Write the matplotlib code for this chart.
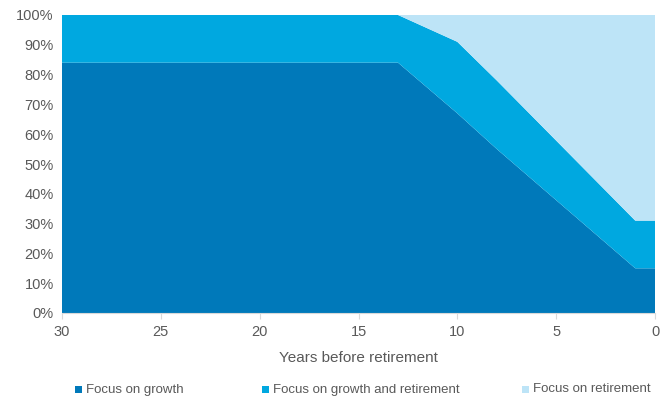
import matplotlib
matplotlib.use("Agg")
import matplotlib.pyplot as plt
from matplotlib.patches import Rectangle

years = [30, 13, 10, 8, 1, 0]
growth = [84, 84, 67, 55, 15, 15]
growth_and_retirement = [16, 16, 24, 23, 16, 16]
retirement = [0, 0, 9, 22, 69, 69]
labels = ["Focus on growth", "Focus on growth and retirement", "Focus on retirement"]
colors = ["#0079BA", "#00A8E0", "#BDE4F7"]
xticks = [30, 25, 20, 15, 10, 5, 0]
yticks = list(range(0, 101, 10))

plt.rcParams["font.family"] = ["Liberation Sans", "DejaVu Sans"]

W, H = 668, 399
fig = plt.figure(figsize=(W/100, H/100), dpi=100)
ax = fig.add_axes([62/W, 1-313/H, (655-62)/W, (313-15)/H])
ax.stackplot(years, growth, growth_and_retirement, retirement, colors=colors, linewidth=0)
ax.set_xlim(30, 0)
ax.set_ylim(0, 100)
ax.set_xticks(xticks)
ax.set_yticks(yticks)
ax.set_yticklabels([f"{v}%" for v in yticks])
for s in ["top", "right", "left"]:
    ax.spines[s].set_visible(False)
ax.spines["bottom"].set_color("#D9D9D9")
ax.tick_params(axis="y", length=0, labelsize=10.5, labelcolor="#595959", pad=6)
ax.tick_params(axis="x", length=4, color="#D9D9D9", labelsize=10.5, labelcolor="#595959", pad=5)
ax.set_xlabel("Years before retirement", fontsize=11, color="#595959", labelpad=8)

# legend entries placed like the reference
marker_x = [75, 262, 522]
for mx, lab, c in zip(marker_x, labels, colors):
    fig.add_artist(Rectangle((mx/W, 1-393/H), 7/W, 7/H, transform=fig.transFigure,
                             facecolor=c, edgecolor="none"))
    fig.text((mx+11)/W, 1-389.5/H, lab, fontsize=9.5, color="#595959", va="center", ha="left")

fig.savefig("out.png", dpi=100)
